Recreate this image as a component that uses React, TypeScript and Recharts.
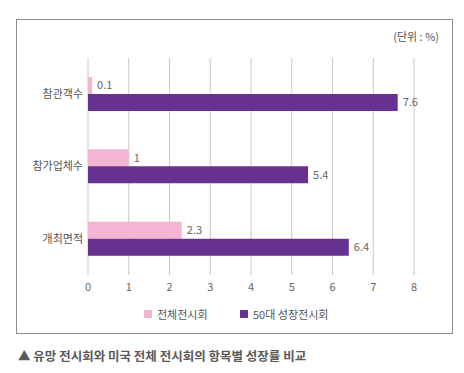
import { BarChart, Bar, XAxis, YAxis, CartesianGrid, Legend, LabelList } from "recharts"

const categories = ["참관객수", "참가업체수", "개최면적"]
const allShows = [0.1, 1, 2.3]
const top50Shows = [7.6, 5.4, 6.4]
const xTicks = [0, 1, 2, 3, 4, 5, 6, 7, 8]

const seriesNames = { all: "전체전시회", top: "50대 성장전시회" }
const colors = { all: "#f4b5d2", top: "#67318f" }

const data = categories.map((name, i) => ({
  name,
  all: allShows[i],
  top: top50Shows[i],
}))

const font = '"Noto Sans CJK KR", "Noto Sans", sans-serif'

function LegendBox() {
  const items = [
    { key: "all", label: seriesNames.all, color: colors.all, left: 144 },
    { key: "top", label: seriesNames.top, color: colors.top, left: 240 },
  ]
  return (
    <div style={{ position: "relative", height: 16 }}>
      {items.map((it) => (
        <div
          key={it.key}
          style={{ position: "absolute", left: it.left, top: 0, display: "flex", alignItems: "center", fontSize: 11, color: "#555", fontFamily: font }}
        >
          <span style={{ display: "inline-block", width: 8, height: 8, background: it.color, marginRight: 5 }} />
          {it.label}
        </div>
      ))}
    </div>
  )
}

export default function App() {
  return (
    <div style={{ position: "absolute", left: 0, top: 0, width: 464, height: 373, background: "#fff", fontFamily: font }}>
      <div
        style={{ position: "absolute", left: 16, top: 19, width: 435, height: 313, border: "1px solid #8c8c8c" }}
      />
      <div style={{ position: "absolute", right: 25, top: 28, fontSize: 11, color: "#555" }}>(단위 : %)</div>
      <div style={{ position: "absolute", left: 0, top: 0 }}>
        <BarChart
          width={464}
          height={373}
          data={data}
          layout="vertical"
          barGap={0}
          margin={{ top: 58, right: 50, left: 0, bottom: 68 }}
        >
          <CartesianGrid horizontal={false} vertical={true} stroke="#c8c8c8" />
          <XAxis
            type="number"
            domain={[0, 8]}
            ticks={xTicks}
            axisLine={false}
            tickLine={false}
            tickSize={0}
            tickMargin={8}
            height={30}
            tick={{ fontSize: 11, fill: "#666", fontFamily: font }}
          />
          <YAxis
            type="category"
            dataKey="name"
            width={88}
            axisLine={false}
            tickLine={false}
            tickSize={0}
            tickMargin={5}
            tick={{ fontSize: 11, fill: "#555", fontFamily: font }}
          />
          <Legend
            layout="horizontal"
            verticalAlign="middle"
            wrapperStyle={{ top: 306, left: 0, width: 464 }}
            content={() => <LegendBox />}
          />
          <Bar dataKey="all" name={seriesNames.all} fill={colors.all} barSize={17} isAnimationActive={false}>
            <LabelList dataKey="all" position="right" offset={5} style={{ fontSize: 11, fill: "#666", fontFamily: font }} />
          </Bar>
          <Bar dataKey="top" name={seriesNames.top} fill={colors.top} barSize={17} isAnimationActive={false}>
            <LabelList dataKey="top" position="right" offset={5} style={{ fontSize: 11, fill: "#666", fontFamily: font }} />
          </Bar>
        </BarChart>
      </div>
      <div style={{ position: "absolute", left: 18, top: 346, fontSize: 12.5, fontWeight: "bold", color: "#595959" }}>
        ▲ 유망 전시회와 미국 전체 전시회의 항목별 성장률 비교
      </div>
    </div>
  )
}
